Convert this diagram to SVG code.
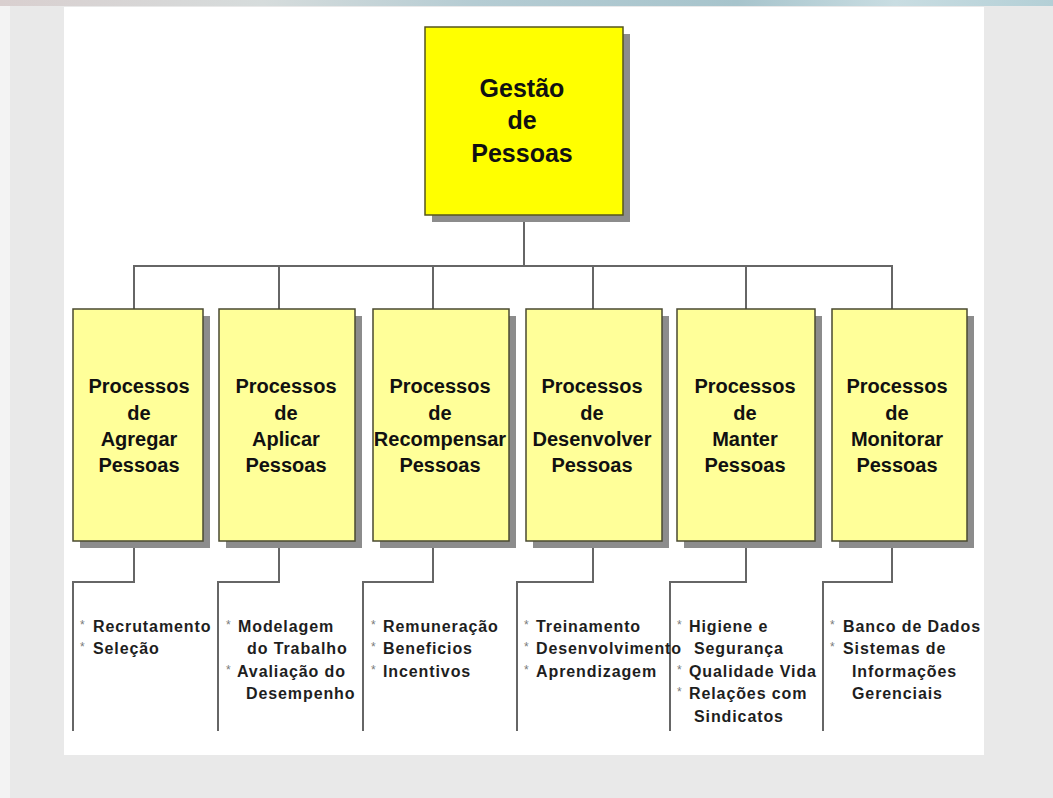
<svg xmlns="http://www.w3.org/2000/svg" width="1053" height="798" viewBox="0 0 1053 798">
  <defs>
    <linearGradient id="strip" x1="0" y1="0" x2="1" y2="0">
      <stop offset="0" stop-color="#d9cfcf"/>
      <stop offset="0.25" stop-color="#d6dcdc"/>
      <stop offset="0.45" stop-color="#b5ccd3"/>
      <stop offset="0.7" stop-color="#a7c4cc"/>
      <stop offset="0.85" stop-color="#c9dde2"/>
      <stop offset="1" stop-color="#b3cfd6"/>
    </linearGradient>
    <style>
      .shadow { fill: #8c8c8c; }
      .top { fill: #ffff00; stroke: #55551e; stroke-width: 1.5; }
      .box { fill: #ffff99; stroke: #4a4a30; stroke-width: 1.5; }
      .conn { fill: none; stroke: #666666; stroke-width: 2; }
      .t-top { font-family: "Liberation Sans", Arial, sans-serif; font-weight: bold; font-size: 25px; fill: #111111; text-anchor: middle; }
      .t-box { font-family: "Liberation Sans", Arial, sans-serif; font-weight: bold; font-size: 20px; fill: #111111; text-anchor: middle; }
      .t-item { font-family: "Liberation Sans", Arial, sans-serif; font-weight: bold; font-size: 16px; letter-spacing: 0.9px; fill: #1e1e1e; }
      .t-bul { font-family: "Liberation Sans", Arial, sans-serif; font-size: 12px; fill: #7a7a7a; }
    </style>
  </defs>

  <!-- background -->
  <rect x="0" y="0" width="1053" height="798" fill="#e9e9e9"/>
  <rect x="0" y="6" width="10" height="792" fill="#f3f3f3"/>
  <rect x="0" y="0" width="1053" height="6" fill="url(#strip)"/>
  <rect x="64" y="7" width="920" height="748" fill="#ffffff"/>

  <!-- connectors -->
  <g id="connectors">
    <path class="conn" d="M524 215 V266"/>
    <path class="conn" d="M134 309 V266 H892 V309"/>
    <path class="conn" d="M279 266 V309"/>
    <path class="conn" d="M433 266 V309"/>
    <path class="conn" d="M593 266 V309"/>
    <path class="conn" d="M746 266 V309"/>
    <path class="conn" d="M134 548 V582 H73 V731"/>
    <path class="conn" d="M279 548 V582 H218 V731"/>
    <path class="conn" d="M433 548 V582 H363 V731"/>
    <path class="conn" d="M593 548 V582 H517 V731"/>
    <path class="conn" d="M746 548 V582 H670 V731"/>
    <path class="conn" d="M892 548 V582 H823 V731"/>
  </g>

  <!-- top node -->
  <g id="gestao">
    <rect class="shadow" x="432" y="34" width="198" height="188"/>
    <rect class="top" x="425" y="27" width="198" height="188"/>
    <text class="t-top" x="522" y="97">Gestão</text>
    <text class="t-top" x="522" y="129">de</text>
    <text class="t-top" x="522" y="162">Pessoas</text>
  </g>

  <!-- child nodes -->
  <g id="agregar">
    <rect class="shadow" x="80" y="316" width="130" height="232"/>
    <rect class="box" x="73" y="309" width="130" height="232"/>
    <text class="t-box" x="139" y="393">Processos</text>
    <text class="t-box" x="139" y="420">de</text>
    <text class="t-box" x="139" y="446">Agregar</text>
    <text class="t-box" x="139" y="472">Pessoas</text>
  </g>
  <g id="aplicar">
    <rect class="shadow" x="226" y="316" width="136" height="232"/>
    <rect class="box" x="219" y="309" width="136" height="232"/>
    <text class="t-box" x="286" y="393">Processos</text>
    <text class="t-box" x="286" y="420">de</text>
    <text class="t-box" x="286" y="446">Aplicar</text>
    <text class="t-box" x="286" y="472">Pessoas</text>
  </g>
  <g id="recompensar">
    <rect class="shadow" x="380" y="316" width="136" height="232"/>
    <rect class="box" x="373" y="309" width="136" height="232"/>
    <text class="t-box" x="440" y="393">Processos</text>
    <text class="t-box" x="440" y="420">de</text>
    <text class="t-box" x="440" y="446">Recompensar</text>
    <text class="t-box" x="440" y="472">Pessoas</text>
  </g>
  <g id="desenvolver">
    <rect class="shadow" x="533" y="316" width="136" height="232"/>
    <rect class="box" x="526" y="309" width="136" height="232"/>
    <text class="t-box" x="592" y="393">Processos</text>
    <text class="t-box" x="592" y="420">de</text>
    <text class="t-box" x="592" y="446">Desenvolver</text>
    <text class="t-box" x="592" y="472">Pessoas</text>
  </g>
  <g id="manter">
    <rect class="shadow" x="684" y="316" width="138" height="232"/>
    <rect class="box" x="677" y="309" width="138" height="232"/>
    <text class="t-box" x="745" y="393">Processos</text>
    <text class="t-box" x="745" y="420">de</text>
    <text class="t-box" x="745" y="446">Manter</text>
    <text class="t-box" x="745" y="472">Pessoas</text>
  </g>
  <g id="monitorar">
    <rect class="shadow" x="839" y="316" width="135" height="232"/>
    <rect class="box" x="832" y="309" width="135" height="232"/>
    <text class="t-box" x="897" y="393">Processos</text>
    <text class="t-box" x="897" y="420">de</text>
    <text class="t-box" x="897" y="446">Monitorar</text>
    <text class="t-box" x="897" y="472">Pessoas</text>
  </g>

  <!-- item lists -->
  <g id="list-agregar">
    <text class="t-bul" x="80" y="629">*</text>
    <text class="t-item" x="93" y="632">Recrutamento</text>
    <text class="t-bul" x="80" y="651">*</text>
    <text class="t-item" x="93" y="654">Seleção</text>
  </g>
  <g id="list-aplicar">
    <text class="t-bul" x="226" y="629">*</text>
    <text class="t-item" x="238" y="632">Modelagem</text>
    <text class="t-item" x="247" y="654">do Trabalho</text>
    <text class="t-bul" x="226" y="674">*</text>
    <text class="t-item" x="237" y="677">Avaliação do</text>
    <text class="t-item" x="246" y="699">Desempenho</text>
  </g>
  <g id="list-recompensar">
    <text class="t-bul" x="371" y="629">*</text>
    <text class="t-item" x="383" y="632">Remuneração</text>
    <text class="t-bul" x="371" y="651">*</text>
    <text class="t-item" x="383" y="654">Beneficios</text>
    <text class="t-bul" x="371" y="674">*</text>
    <text class="t-item" x="383" y="677">Incentivos</text>
  </g>
  <g id="list-desenvolver">
    <text class="t-bul" x="524" y="629">*</text>
    <text class="t-item" x="536" y="632">Treinamento</text>
    <text class="t-bul" x="524" y="651">*</text>
    <text class="t-item" x="536" y="654">Desenvolvimento</text>
    <text class="t-bul" x="524" y="674">*</text>
    <text class="t-item" x="536" y="677">Aprendizagem</text>
  </g>
  <g id="list-manter">
    <text class="t-bul" x="677" y="629">*</text>
    <text class="t-item" x="689" y="632">Higiene e</text>
    <text class="t-item" x="694" y="654">Segurança</text>
    <text class="t-bul" x="677" y="674">*</text>
    <text class="t-item" x="689" y="677">Qualidade Vida</text>
    <text class="t-bul" x="677" y="696">*</text>
    <text class="t-item" x="689" y="699">Relações com</text>
    <text class="t-item" x="694" y="722">Sindicatos</text>
  </g>
  <g id="list-monitorar">
    <text class="t-bul" x="830" y="629">*</text>
    <text class="t-item" x="843" y="632">Banco de Dados</text>
    <text class="t-bul" x="830" y="651">*</text>
    <text class="t-item" x="843" y="654">Sistemas de</text>
    <text class="t-item" x="852" y="677">Informações</text>
    <text class="t-item" x="852" y="699">Gerenciais</text>
  </g>
</svg>
